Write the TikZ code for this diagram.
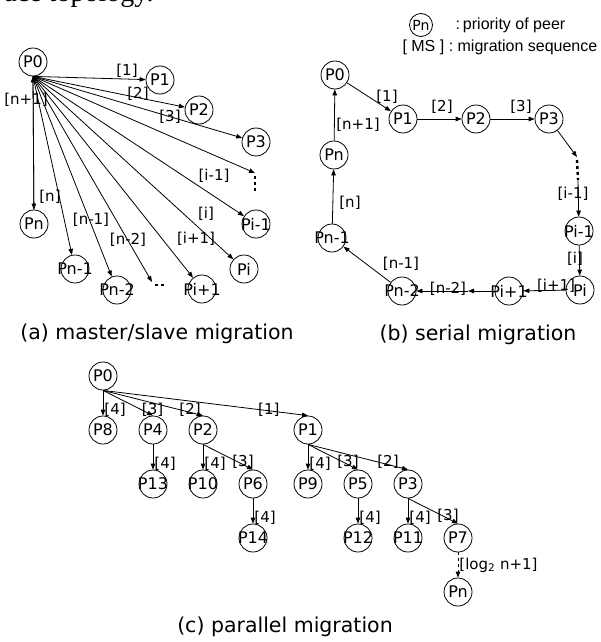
\documentclass[tikz,border=0pt]{standalone}
\usepackage{fontspec}
\setmainfont{DejaVu Sans}
\newfontfamily\legendfont{Liberation Sans}
\newfontfamily\pagefont{Liberation Serif}
\usetikzlibrary{arrows.meta,trees}
\newcommand{\pid}[1]{\makebox[18pt]{#1}}

\begin{document}
\begin{tikzpicture}[x=1pt,y=-1pt,>={Triangle[length=6pt,width=4.5pt]}]
  \tikzstyle{peer}=[draw,circle,minimum size=28pt,inner sep=0pt,line width=.8pt,
    font=\fontsize{16}{16}\selectfont]
  \tikzstyle{seq}=[inner sep=1pt,font=\fontsize{15}{15}\selectfont]
  \tikzstyle{mig}=[->,line width=.8pt]
  \tikzstyle{more}=[line width=2.4pt,dash pattern=on 3pt off 3pt]
  \tikzstyle{caption}=[font=\fontsize{20.5}{20.5}\selectfont]
  \tikzstyle{down}=[seq,pos=.75,anchor=west]
  \tikzstyle{side}=[seq,pos=.8,yshift=3pt]
  \tikzstyle{every child node}=[peer]
  \tikzstyle{edge from parent}=[draw,mig]
  \useasboundingbox (0,0) rectangle (600,642);
  \clip (0,0) rectangle (600,642);
  \node[anchor=base east,font=\pagefont\fontsize{28}{28}\selectfont] (cut) at (157,2) {ace topology.};

  \node[peer] (a0) at (33,62) {\pid{P0}};
  \node[peer] (a1) at (160,80) {\pid{P1}};
  \node[peer] (a2) at (199,110) {\pid{P2}};
  \node[peer] (a3) at (256,142) {\pid{P3}};
  \coordinate (ad1) at (255,173);
  \node[peer] (ai1) at (256,224) {\pid{Pi-1}};
  \node[peer] (ai) at (244,269) {\pid{Pi}};
  \node[peer] (aip) at (202,289) {\pid{Pi+1}};
  \coordinate (ad2) at (152,282);
  \node[peer] (an2) at (117,290) {\pid{Pn-2}};
  \node[peer] (an1) at (75,269) {\pid{Pn-1}};
  \node[peer] (an) at (34,224) {\pid{Pn}};
  \foreach \t in {a1,a2,a3,ad1,ai1,ai,aip,ad2,an2,an1,an}
    \draw[mig] (a0.south) -- (\t);
  \draw[mig] (an) -- (a0.south);
  \draw[more] (ad1) ++(0,3) -- ++(0,18);
  \draw[more] (ad2) ++(3,3) -- ++(12,0);
  \node[seq] (la1) at (127,71) {[1]};
  \node[seq] (la2) at (138,94) {[2]};
  \node[seq] (la3) at (170,117) {[3]};
  \node[seq] (lai1) at (214,176) {[i-1]};
  \node[seq] (lai) at (206,214) {[i]};
  \node[seq] (laip) at (196,239) {[i+1]};
  \node[seq] (lan2) at (128,240) {[n-2]};
  \node[seq] (lan1) at (91,220) {[n-1]};
  \node[seq] (lan) at (50,197) {[n]};
  \node[seq] (lanp) at (26,100) {[n+1]};
  \node[caption] (capa) at (157,334) {(a) master/slave migration};

  \node[peer,minimum size=23pt,font=\fontsize{14}{14}\selectfont] (key) at (421,25) {Pn};
  \node[anchor=west,font=\legendfont\fontsize{16}{16}\selectfont] (keyp) at (452,25) {:\hspace{3pt}priority of peer};
  \node[anchor=west,font=\legendfont\fontsize{16}{16}\selectfont] (keym) at (399,47) {[ MS ] : migration sequence};

  \node[peer] (b0) at (335,75) {\pid{P0}};
  \node[peer] (b1) at (403,119) {\pid{P1}};
  \node[peer] (b2) at (476,119) {\pid{P2}};
  \node[peer] (b3) at (549,119) {\pid{P3}};
  \coordinate (bd1) at (577,157);
  \coordinate (bd1e) at (578,180);
  \node[peer] (bi1) at (579,231) {\pid{Pi-1}};
  \node[peer] (bi) at (580,290) {\pid{Pi}};
  \node[peer] (bip) at (509,291) {\pid{Pi+1}};
  \coordinate (bd2) at (468,291);
  \node[peer] (bn2) at (402,291) {\pid{Pn-2}};
  \node[peer] (bn1) at (332,238) {\pid{Pn-1}};
  \node[peer] (bn) at (334,155) {\pid{Pn}};
  \draw[mig] (b0) -- (b1);
  \draw[mig] (b1) -- (b2);
  \draw[mig] (b2) -- (b3);
  \draw[mig] (b3) -- (bd1);
  \draw[more] (bd1) ++(0,3) -- (bd1e);
  \draw[mig] (bd1e) -- (bi1);
  \draw[mig] (bi1) -- (bi);
  \draw[mig] (bi) -- (bip);
  \draw[mig] (bip) -- (bd2);
  \draw[mig] (bd2) -- (bn2);
  \draw[mig] (bn2) -- (bn1);
  \draw[mig] (bn1) -- (bn);
  \draw[mig] (bn) -- (b0);
  \node[seq] (lb1) at (387,97) {[1]};
  \node[seq] (lb2) at (442,107) {[2]};
  \node[seq] (lb3) at (521,107) {[3]};
  \node[seq] (lbi1) at (573,194) {[i-1]};
  \node[seq] (lbi) at (575,259) {[i]};
  \node[seq] (lbip) at (556,286) {[i+1]};
  \node[seq] (lbn2) at (448,289) {[n-2]};
  \node[seq] (lbn1) at (401,264) {[n-1]};
  \node[seq] (lbn) at (350,203) {[n]};
  \node[seq] (lbnp) at (358,125) {[n+1]};
  \node[caption] (capb) at (478,335) {(b) serial migration};

  \node[peer] (c0) at (103,376) {\pid{P0}}
    [grow via three points={one child at (0,54) and two children at (0,54) and (50,54)},
     edge from parent path={(\tikzparentnode.south) -- (\tikzchildnode.north)}]
    child {node (c8) {\pid{P8}} edge from parent node[down] {[4]}}
    child {node (c4) {\pid{P4}}
      child {node (c13) {\pid{P13}} edge from parent node[down] {[4]}}
      edge from parent node[down] {[3]}
    }
    child {node (c2) {\pid{P2}}
      child {node (c10) {\pid{P10}} edge from parent node[down] {[4]}}
      child {node (c6) {\pid{P6}}
        child {node (c14) {\pid{P14}} edge from parent node[down] {[4]}}
        edge from parent node[side] {[3]}
      }
      edge from parent node[down] {[2]}
    }
    child[missing]
    child[xshift=5pt] {node (c1) {\pid{P1}}
      child {node (c9) {\pid{P9}} edge from parent node[down] {[4]}}
      child {node (c5) {\pid{P5}}
        child {node (c12) {\pid{P12}} edge from parent node[down] {[4]}}
        edge from parent node[side] {[3]}
      }
      child {node (c3) {\pid{P3}}
        child {node (c11) {\pid{P11}} edge from parent node[down] {[4]}}
        child {node (c7) {\pid{P7}}
          child {node (cn) {\pid{Pn}}
            edge from parent[dashed] node[down,pos=.5] {[log\textsubscript{2} n+1]}}
          edge from parent node[side] {[3]}
        }
        edge from parent node[side] {[2]}
      }
      edge from parent node[down] {[1]}
    };
  \node[caption] (capc) at (285,627) {(c) parallel migration};
\end{tikzpicture}
\end{document}
